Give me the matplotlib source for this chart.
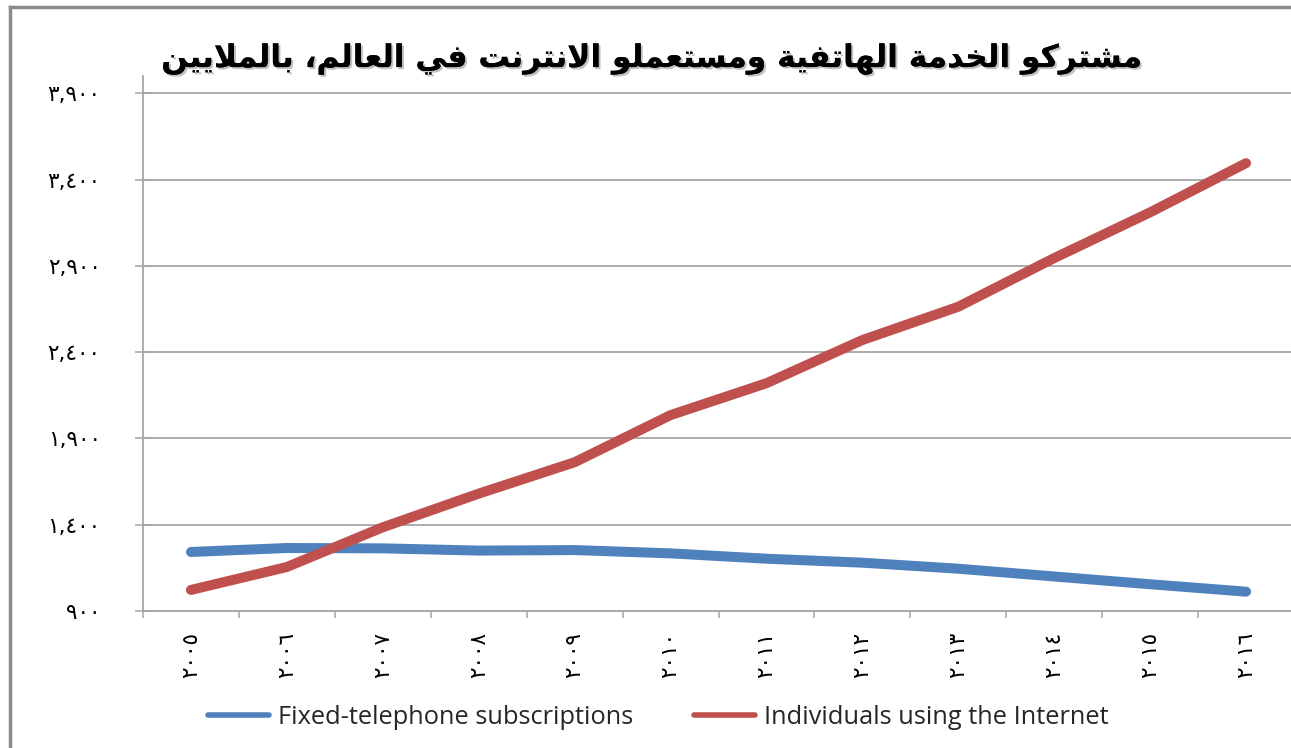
import matplotlib
matplotlib.use("Agg")
import matplotlib.pyplot as plt
from matplotlib.lines import Line2D
from matplotlib.ticker import FixedLocator, NullFormatter, FixedFormatter
import matplotlib.patheffects as pe

# ---------------- data ----------------
years = ["٢٠٠٥", "٢٠٠٦", "٢٠٠٧", "٢٠٠٨", "٢٠٠٩", "٢٠١٠",
         "٢٠١١", "٢٠١٢", "٢٠١٣", "٢٠١٤", "٢٠١٥", "٢٠١٦"]
fixed_telephone = [1242, 1265, 1263, 1250, 1253, 1234, 1203, 1180, 1145, 1100, 1055, 1012]
internet_users = [1022, 1155, 1385, 1580, 1762, 2035, 2220, 2470, 2663, 2945, 3210, 3495]
y_ticks = [900, 1400, 1900, 2400, 2900, 3400, 3900]
y_tick_labels = ["٩٠٠", "١,٤٠٠", "١,٩٠٠", "٢,٤٠٠", "٢,٩٠٠", "٣,٤٠٠", "٣,٩٠٠"]
series_names = ["Fixed-telephone subscriptions", "Individuals using the Internet"]
title = "مشتركو الخدمة الهاتفية ومستعملو الانترنت في العالم، بالملايين"

# ---------------- minimal Arabic shaping (presentation forms) ----------------
FORMS = {  # isolated, final, initial, medial
    "ا": ("\uFE8D", "\uFE8E", None, None),
    "ب": ("\uFE8F", "\uFE90", "\uFE91", "\uFE92"),
    "ة": ("\uFE93", "\uFE94", None, None),
    "ت": ("\uFE95", "\uFE96", "\uFE97", "\uFE98"),
    "خ": ("\uFEA5", "\uFEA6", "\uFEA7", "\uFEA8"),
    "د": ("\uFEA9", "\uFEAA", None, None),
    "ر": ("\uFEAD", "\uFEAE", None, None),
    "س": ("\uFEB1", "\uFEB2", "\uFEB3", "\uFEB4"),
    "ش": ("\uFEB5", "\uFEB6", "\uFEB7", "\uFEB8"),
    "ع": ("\uFEC9", "\uFECA", "\uFECB", "\uFECC"),
    "ف": ("\uFED1", "\uFED2", "\uFED3", "\uFED4"),
    "ك": ("\uFED9", "\uFEDA", "\uFEDB", "\uFEDC"),
    "ل": ("\uFEDD", "\uFEDE", "\uFEDF", "\uFEE0"),
    "م": ("\uFEE1", "\uFEE2", "\uFEE3", "\uFEE4"),
    "ن": ("\uFEE5", "\uFEE6", "\uFEE7", "\uFEE8"),
    "ه": ("\uFEE9", "\uFEEA", "\uFEEB", "\uFEEC"),
    "و": ("\uFEED", "\uFEEE", None, None),
    "ي": ("\uFEF1", "\uFEF2", "\uFEF3", "\uFEF4"),
}
LAMALEF = ("\uFEFB", "\uFEFC")


def dual(c):
    return c in FORMS and FORMS[c][2] is not None


def shape(text):
    out = []
    chars = list(text)
    i = 0
    n = len(chars)
    while i < n:
        c = chars[i]
        prev = chars[i - 1] if i > 0 else ""
        joins_prev = dual(prev) and c in FORMS
        if c == "ل" and i + 1 < n and chars[i + 1] == "ا":
            out.append(LAMALEF[1] if joins_prev else LAMALEF[0])
            i += 2
            continue
        if c not in FORMS:
            out.append(c)
            i += 1
            continue
        nxt = chars[i + 1] if i + 1 < n else ""
        joins_next = dual(c) and nxt in FORMS
        iso, fin, ini, med = FORMS[c]
        if joins_prev and joins_next:
            out.append(med)
        elif joins_prev:
            out.append(fin)
        elif joins_next:
            out.append(ini)
        else:
            out.append(iso)
        i += 1
    return "".join(reversed(out))


# ---------------- figure ----------------
W, H = 1291, 748
fig = plt.figure(figsize=(W / 100, H / 100), dpi=100)
fig.patch.set_facecolor("white")

ax_left, ax_right, ax_top, ax_bottom = 143, 1294, 76, 611
ax = fig.add_axes([ax_left / W, 1 - ax_bottom / H,
                   (ax_right - ax_left) / W, (ax_bottom - ax_top) / H])
ax.set_facecolor("white")

grid_col = "#A6A6A6"
x = list(range(len(years)))
ax.plot(x, fixed_telephone, color="#4F81BD", lw=7.2, solid_capstyle="round",
        solid_joinstyle="round", label=series_names[0], zorder=3)
ax.plot(x, internet_users, color="#C0504D", lw=7.2, solid_capstyle="round",
        solid_joinstyle="round", label=series_names[1], zorder=3)

ax.set_xlim(-0.5, len(years) - 0.5)
ax.set_ylim(900, 4000)

# y axis
ax.yaxis.set_major_locator(FixedLocator(y_ticks))
ax.yaxis.set_major_formatter(FixedFormatter(y_tick_labels))
ax.grid(axis="y", color=grid_col, lw=1.3, zorder=1)
ax.tick_params(axis="y", direction="inout", length=11, width=1.1, color=grid_col,
               pad=25, labelsize=15.5, labelcolor="black")

# x axis: boundary ticks + centered labels
ax.xaxis.set_major_locator(FixedLocator([i - 0.5 for i in range(len(years) + 1)]))
ax.xaxis.set_major_formatter(NullFormatter())
ax.xaxis.set_minor_locator(FixedLocator(x))
ax.xaxis.set_minor_formatter(FixedFormatter(years))
ax.tick_params(axis="x", which="major", direction="out", length=5, width=1.1, color=grid_col)
ax.tick_params(axis="x", which="minor", length=0, pad=15, labelsize=15.5,
               labelrotation=90, labelcolor="black")

for s in ["top", "right"]:
    ax.spines[s].set_visible(False)
for s in ["left", "bottom"]:
    ax.spines[s].set_color(grid_col)
    ax.spines[s].set_linewidth(1.3)

# title
fig.text(652 / W, 1 - 59 / H, shape(title), ha="center", va="center",
         fontsize=22.5, fontweight="bold", family="DejaVu Sans", color="black",
         path_effects=[pe.withSimplePatchShadow(offset=(1.5, -1.5), shadow_rgbFace="#999999", alpha=0.6),
                       pe.Normal()])

# legend
h1 = Line2D([], [], color="#4F81BD", lw=4, solid_capstyle="round")
h2 = Line2D([], [], color="#C0504D", lw=4, solid_capstyle="round")
fig.legend([h1, h2], series_names, loc="center", bbox_to_anchor=(658 / W, 1 - 717 / H),
           ncol=2, frameon=False, prop={"family": "Open Sans", "size": 18.3},
           handlelength=2.4, handletextpad=0.35, columnspacing=2.4, labelcolor="#262626")

# chart border (left and top)
fig.add_artist(Line2D([10 / W, 10 / W], [0, 1 - 7 / H], color="#8C8C8C", lw=2.5))
fig.add_artist(Line2D([10 / W, 1], [1 - 7 / H, 1 - 7 / H], color="#8C8C8C", lw=2.5))

fig.savefig("out.png", dpi=100, facecolor="white")
